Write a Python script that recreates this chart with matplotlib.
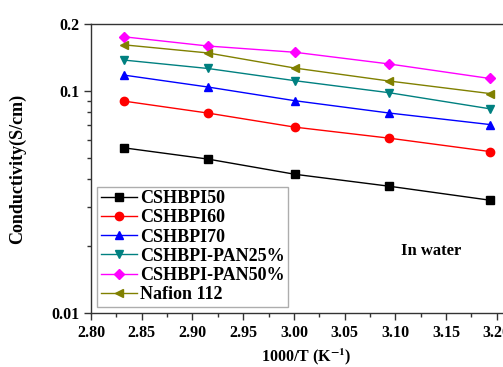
import matplotlib.pyplot as plt
from matplotlib.ticker import FixedLocator, NullFormatter, MultipleLocator

# 1000/T values (K^-1)
inv_t = [2.832, 2.915, 3.001, 3.094, 3.193]

# conductivity (S/cm)
cshbpi50 = [0.0554, 0.0493, 0.0421, 0.0372, 0.0322]
cshbpi60 = [0.0899, 0.0794, 0.0686, 0.0612, 0.0533]
cshbpi70 = [0.1177, 0.1040, 0.0902, 0.0794, 0.0705]
pan25 = [0.1375, 0.1260, 0.1110, 0.0980, 0.0830]
pan50 = [0.1750, 0.1590, 0.1490, 0.1320, 0.1136]
nafion = [0.1610, 0.1480, 0.1265, 0.1106, 0.0972]

labels = ["CSHBPI50", "CSHBPI60", "CSHBPI70", "CSHBPI-PAN25%",
          "CSHBPI-PAN50%", "Nafion 112"]
colors = ["black", "#ff0000", "#0000ff", "#008080", "#ff00ff", "#808000"]
markers = ["s", "o", "^", "v", "D", "<"]
xticks = [2.80, 2.85, 2.90, 2.95, 3.00, 3.05, 3.10, 3.15, 3.20]

plt.rcParams['font.family'] = ['Liberation Serif', 'DejaVu Serif']
plt.rcParams['mathtext.fontset'] = 'stix'

fig = plt.figure(figsize=(5.03, 3.67), dpi=100)
# axes run a bit past the right edge, like the cropped original
ax = fig.add_axes([0.181, 0.147, 0.857, 0.788])

series = [cshbpi50, cshbpi60, cshbpi70, pan25, pan50, nafion]
for vals, lab, c, m in zip(series, labels, colors, markers):
    ms = 5.5 if m == "D" else 6
    ax.plot(inv_t, vals, color=c, marker=m, markersize=ms, linewidth=1.0, label=lab)

ax.set_yscale('log')
ax.set_ylim(0.01, 0.2)
ax.set_xlim(2.80, 3.225)

ax.yaxis.set_major_locator(FixedLocator([0.01, 0.1, 0.2]))
ax.set_yticklabels(["0.01", "0.1", "0.2"])
ax.yaxis.set_minor_locator(FixedLocator([0.02, 0.03, 0.04, 0.05, 0.06, 0.07, 0.08, 0.09]))
ax.yaxis.set_minor_formatter(NullFormatter())
ax.xaxis.set_minor_locator(MultipleLocator(0.025))
ax.set_xticks(xticks)
ax.set_xticklabels([f"{v:.2f}" for v in xticks])

for s in ax.spines.values():
    s.set_color('#333333')
    s.set_linewidth(1.0)
ax.tick_params(which='major', direction='out', length=5, width=1, color='#333333',
               labelsize=11.5, top=False, right=False)
ax.tick_params(which='minor', direction='out', length=3, width=1, color='#333333',
               top=False, right=False)
for t in ax.get_xticklabels() + ax.get_yticklabels():
    t.set_fontweight('bold')

ax.set_xlabel("1000/T (K$^{\\mathbf{-1}}$)", fontsize=11.5, fontweight='bold', labelpad=4)
ax.set_ylabel("Conductivity(S/cm)", fontsize=13, fontweight='bold', labelpad=18)

ax.text(0.72, 0.215, "In water", transform=ax.transAxes, fontsize=12,
        fontweight='bold', ha='left', va='center')

leg = ax.legend(loc='lower left', bbox_to_anchor=(0.0, 0.0), frameon=True,
                fancybox=False, edgecolor='#999999', handlelength=2.0,
                handletextpad=0.15, labelspacing=0.12, borderpad=0.2,
                borderaxespad=0.35, prop={'weight': 'bold', 'size': 13})
leg.get_frame().set_linewidth(1.0)

fig.savefig("out.png", dpi=100, facecolor='white')
